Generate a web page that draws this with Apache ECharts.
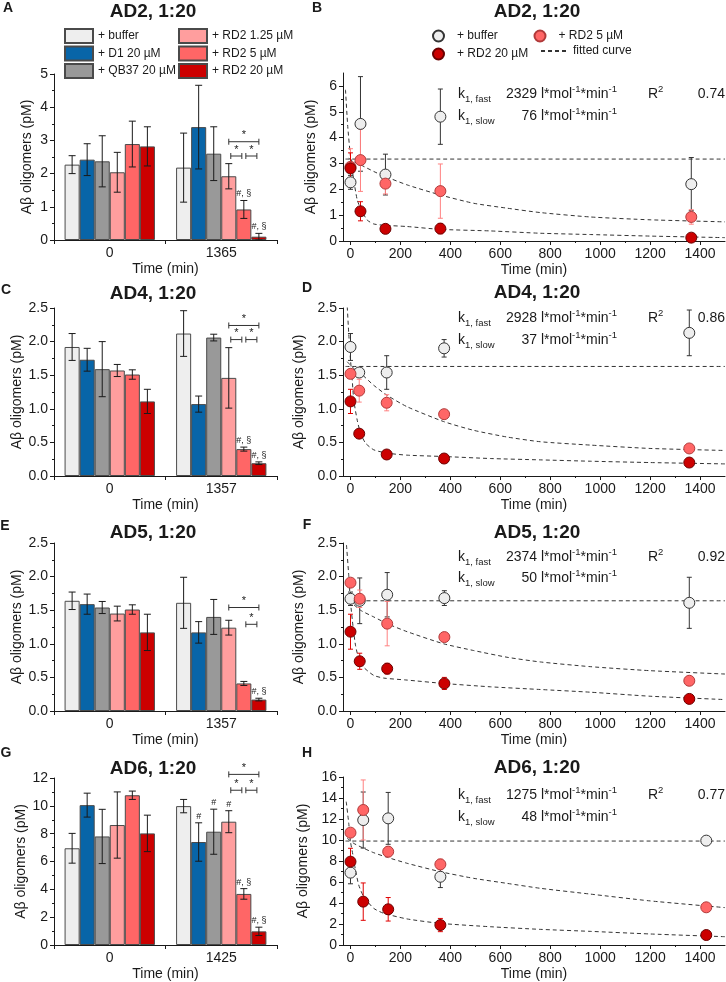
<!DOCTYPE html>
<html><head><meta charset="utf-8">
<script src="https://cdn.jsdelivr.net/npm/echarts@6/dist/echarts.min.js"></script>
<style>html,body{margin:0;padding:0;background:#fff}#c{width:726px;height:982px}</style>
</head><body><div id="c"></div>
<script>
// ================= DATA =================
const treatments = ['+ buffer','+ D1 20 µM','+ QB37 20 µM','+ RD2 1.25 µM','+ RD2 5 µM','+ RD2 20 µM'];
const catsA = ['0','1365'], catsC = ['0','1357'], catsE = ['0','1357'], catsG = ['0','1425'];
// per treatment: [time 0, end time]
const meansA = [[2.27,2.18],[2.42,3.40],[2.37,2.60],[2.04,1.92],[2.89,0.92],[2.82,0.10]];
const errsA  = [[0.27,1.04],[0.48,1.26],[0.77,0.81],[0.60,0.38],[0.69,0.27],[0.59,0.10]];
const meansC = [[1.92,2.12],[1.73,1.07],[1.59,2.06],[1.57,1.46],[1.51,0.40],[1.11,0.19]];
const errsC  = [[0.20,0.34],[0.17,0.12],[0.41,0.05],[0.09,0.45],[0.07,0.03],[0.18,0.02]];
const meansE = [[1.64,1.61],[1.59,1.17],[1.54,1.40],[1.45,1.24],[1.51,0.41],[1.17,0.17]];
const errsE  = [[0.13,0.38],[0.15,0.16],[0.09,0.26],[0.11,0.11],[0.07,0.03],[0.27,0.02]];
const meansG = [[6.95,9.98],[10.05,7.40],[7.80,8.14],[8.62,8.86],[10.76,3.67],[8.02,0.98]];
const errsG  = [[1.07,0.48],[0.86,1.38],[1.95,1.62],[2.38,0.79],[0.30,0.38],[1.31,0.30]];
// significance brackets: [category, fromBar, toBar, level]
const bracketsA = [[1,3,5,2.96],[1,3,4,2.53],[1,4,5,2.53]];
const bracketsC = [[1,3,5,2.24],[1,3,4,2.03],[1,4,5,2.03]];
const bracketsE = [[1,3,5,1.54],[1,4,5,1.29]];
const bracketsG = [[1,3,5,12.26],[1,3,4,11.12],[1,4,5,11.12]];
// marks above bars: [category, bar, text]
const marksA = [[1,4,'#, §'],[1,5,'#, §']];
const marksC = [[1,4,'#, §'],[1,5,'#, §']];
const marksE = [[1,5,'#, §']];
const marksG = [[1,1,'#'],[1,2,'#'],[1,3,'#'],[1,4,'#, §'],[1,5,'#, §']];

// time courses
const timesB = [0,40,140,360,1365];
const bufB = [2.27,4.53,2.57,4.81,2.20], bufBErr = [0.27,1.83,0.79,1.07,1.03];
const rd5B = [2.87,3.13,2.22,1.93,0.93], rd5BErr = [0.70,1.21,0.40,1.05,0.28];
const rd20B = [2.81,1.15,0.47,0.48,0.13], rd20BErr = [0.60,0.37,0.08,0.20,0.10];
const fitFlatB = [[-20,3.17],[1500,3.17]];
const fitRd5B = [[-7,3.2],[13,3.07],[40,2.95],[93,2.69],[133,2.52],[227,2.17],[360,1.78],[493,1.46],[627,1.27],[760,1.1],[960,0.93],[1200,0.82],[1500,0.74]];
const fitRd20B = [[-20,5.85],[-11,4.43],[0,3.27],[13,2.36],[27,1.59],[43,1.2],[67,0.81],[93,0.66],[133,0.61],[227,0.56],[360,0.45],[560,0.39],[760,0.3],[960,0.25],[1200,0.19],[1500,0.13]];

const timesD = [0,35,145,375,1357];
const bufD = [1.92,1.54,1.54,1.90,2.13], bufDErr = [0.20,0.05,0.25,0.13,0.34];
const rd5D = [1.52,1.27,1.09,0.92,0.41], rd5DErr = [0.07,0.17,0.12,0.03,0.03];
const rd20D = [1.11,0.63,0.32,0.26,0.20], rd20DErr = [0.18,0.03,0.03,0.03,0.02];
const fitFlatD = [[-20,1.63],[1500,1.63]];
const fitRd5D = [[-13,1.70],[13,1.60],[40,1.53],[93,1.35],[147,1.2],[227,1.03],[373,0.81],[493,0.68],[627,0.58],[760,0.51],[960,0.46],[1200,0.41],[1500,0.38]];
const fitRd20D = [[-13,2.52],[-7,2.12],[0,1.73],[7,1.43],[13,1.13],[27,0.83],[40,0.64],[60,0.49],[93,0.39],[147,0.34],[227,0.31],[373,0.29],[560,0.26],[760,0.24],[960,0.22],[1200,0.2],[1500,0.18]];

const timesF = [0,37,147,376,1357];
const bufF = [1.67,1.64,1.73,1.68,1.61], bufFErr = [0.10,0.34,0.33,0.11,0.38];
const rd5F = [1.91,1.67,1.30,1.10,0.45], rd5FErr = [0.05,0.13,0.33,0.03,0.03];
const rd20F = [1.18,0.74,0.63,0.41,0.18], rd20FErr = [0.26,0.12,0.08,0.09,0.02];
const fitFlatF = [[-20,1.64],[1500,1.64]];
const fitRd5F = [[-7,1.65],[40,1.50],[93,1.40],[147,1.30],[227,1.18],[373,1.0],[493,0.90],[627,0.80],[760,0.73],[960,0.66],[1200,0.6],[1500,0.55]];
const fitRd20F = [[-16,2.47],[-7,2.02],[0,1.62],[11,1.23],[20,0.98],[33,0.78],[53,0.65],[93,0.53],[133,0.49],[227,0.46],[373,0.41],[560,0.36],[760,0.32],[960,0.28],[1200,0.22],[1500,0.17]];

const timesH = [0,51,151,360,1425];
const bufH = [6.89,11.9,12.06,6.5,9.94], bufHErr = [1.06,2.67,2.47,1.03,0.32];
const rd5H = [10.7,12.86,8.89,7.68,3.59], rd5HErr = [0.3,2.86,0.5,0.5,0.38];
const rd20H = [7.94,4.13,3.40,1.90,0.95], rd20HErr = [1.27,1.78,1.12,0.63,0.2];
const fitFlatH = [[-20,9.9],[1500,9.9]];
const fitRd5H = [[-13,10.16],[13,9.68],[53,9.21],[93,8.79],[147,8.35],[227,7.78],[360,6.98],[493,6.35],[627,5.87],[760,5.4],[960,4.85],[1200,4.2],[1500,3.56]];
const fitRd20H = [[-17,13.65],[-7,11.6],[0,9.84],[11,8.41],[20,7.14],[33,5.71],[53,4.6],[93,3.49],[133,3.02],[227,2.48],[360,2.06],[560,1.74],[760,1.49],[960,1.3],[1200,1.05],[1500,0.79]];

// tick labels
const yTicksA = [0,1,2,3,4,5];
const yTicksB = [0,1,2,3,4,5,6];
const yTicksCDEF = [0,0.5,1.0,1.5,2.0,2.5];
const yTicksG = [0,2,4,6,8,10,12];
const yTicksH = [0,2,4,6,8,10,12,14,16];
const xTickValues = [0,200,400,600,800,1000,1200,1400];
const xMinorValues = [100,300,500,700,900,1100,1300];

// fit results
const kFastValues = [2329,2928,2374,1275];
const kSlowValues = [76,37,50,48];
const r2Values = ['0.74','0.86','0.92','0.77'];
const panelTitles = ['AD2, 1:20','AD4, 1:20','AD5, 1:20','AD6, 1:20'];

// ================= STYLE / BUILD =================
const FONT = '"Liberation Sans", Arial, Helvetica, sans-serif';
const INK = '#1a1a1a';
const barColors = ['#EEEEEE','#0865A8','#999999','#FF9E9E','#FF6666','#CC0000'];
const CAT_GAP = 0.19;
const ptStyles = {
  buf: {fill:'#EEEEEE', border:'#333333', err:'#333333'},
  rd5: {fill:'#FF6666', border:'#B03A3A', err:'#FF8080'},
  rd20:{fill:'#CC0000', border:'#6A0000', err:'#E00000'}
};

const option = {animation:false, textStyle:{fontFamily:FONT}, grid:[], xAxis:[], yAxis:[], series:[], legend:[], graphic:[]};

function axisCommon(){
  return {
    axisLine:{show:true, onZero:false, lineStyle:{color:INK, width:1}},
    axisTick:{show:true, length:4, lineStyle:{color:INK, width:1}},
    axisLabel:{fontSize:14, color:INK, margin:6, fontFamily:FONT},
    splitLine:{show:false},
    nameTextStyle:{fontSize:14, color:INK, fontFamily:FONT}
  };
}

function barX(api, ci, k){
  const band = api.size([1,0])[0];
  const gw = band*(1-CAT_GAP);
  const bw = gw/6;
  const cx = api.coord([ci,0])[0];
  return cx - gw/2 + bw*(k+0.5);
}

function barPanel(L, cats, means, errs, brackets, marks, yTicks, yStep, dec, yNameGap){
  const gi = option.grid.length;
  option.grid.push({left:L.left, top:L.top, width:L.w, height:L.h});
  const xi = option.xAxis.length;
  const xa = axisCommon();
  option.xAxis.push(Object.assign(xa, {gridIndex:gi, type:'category', data:cats,
    name:'Time (min)', nameLocation:'middle', nameGap:22}));
  const yi = option.yAxis.length;
  const ya = axisCommon();
  ya.axisLabel.formatter = v => v.toFixed(dec);
  option.yAxis.push(Object.assign(ya, {gridIndex:gi, type:'value', min:0, max:yTicks[yTicks.length-1], interval:yStep,
    minorTick:{show:true, splitNumber:2, length:2, lineStyle:{color:INK}},
    name:'Aβ oligomers (pM)', nameLocation:'middle', nameGap:yNameGap}));
  treatments.forEach((nm,k)=>{
    option.series.push({type:'bar', name:nm, xAxisIndex:xi, yAxisIndex:yi, data:means[k],
      barGap:'0%', barCategoryGap:(CAT_GAP*100)+'%', silent:true, z:2,
      itemStyle:{color:barColors[k], borderColor:'#4a4a4a', borderWidth:1}});
  });
  const errData = [];
  means.forEach((arr,k)=>arr.forEach((m,ci)=>errData.push([ci,k,m,errs[k][ci]])));
  option.series.push({type:'custom', xAxisIndex:xi, yAxisIndex:yi, z:4, silent:true, clip:false,
    data:errData, encode:{x:0,y:2},
    renderItem:(p,api)=>{
      const ci=api.value(0), k=api.value(1), m=api.value(2), e=api.value(3);
      const x = barX(api,ci,k);
      const yt = api.coord([ci,m+e])[1], yb = api.coord([ci,Math.max(m-e,0)])[1];
      const st = {stroke:INK, lineWidth:1};
      return {type:'group', children:[
        {type:'line', shape:{x1:x,y1:yt,x2:x,y2:yb}, style:st},
        {type:'line', shape:{x1:x-3.5,y1:yt,x2:x+3.5,y2:yt}, style:st},
        {type:'line', shape:{x1:x-3.5,y1:yb,x2:x+3.5,y2:yb}, style:st}
      ]};
    }});
  option.series.push({type:'custom', xAxisIndex:xi, yAxisIndex:yi, z:5, silent:true, clip:false,
    data:brackets, encode:{x:0,y:3},
    renderItem:(p,api)=>{
      const ci=api.value(0), a=api.value(1), b=api.value(2), lv=api.value(3);
      const ins = (b-a===1)?2:0;
      const x1 = barX(api,ci,a)+ins, x2 = barX(api,ci,b)-ins;
      const y = api.coord([ci,lv])[1];
      const st = {stroke:'#333', lineWidth:1};
      return {type:'group', children:[
        {type:'line', shape:{x1:x1,y1:y,x2:x2,y2:y}, style:st},
        {type:'line', shape:{x1:x1,y1:y-3,x2:x1,y2:y+3}, style:st},
        {type:'line', shape:{x1:x2,y1:y-3,x2:x2,y2:y+3}, style:st},
        {type:'text', x:(x1+x2)/2, y:y-1, style:{text:'*', fill:INK, font:'11px '+FONT, align:'center', verticalAlign:'bottom'}}
      ]};
    }});
  const markData = marks.map(m=>[m[0], m[1], means[m[1]][m[0]]+errs[m[1]][m[0]]]);
  option.series.push({type:'custom', xAxisIndex:xi, yAxisIndex:yi, z:5, silent:true, clip:false,
    data:markData, encode:{x:0,y:2},
    renderItem:(p,api)=>{
      const ci=api.value(0), k=api.value(1), top=api.value(2);
      const x = barX(api,ci,k);
      const y = api.coord([ci,top])[1];
      return {type:'text', x:x, y:y-2, style:{text:marks[p.dataIndex][2], fill:INK, font:'9px '+FONT, align:'center', verticalAlign:'bottom'}};
    }});
}

function errSeries(xi, yi, times, vals, errs, color){
  return {type:'custom', xAxisIndex:xi, yAxisIndex:yi, z:3, silent:true, clip:false,
    data: times.map((t,i)=>[t, vals[i], errs[i]]), encode:{x:0,y:1},
    renderItem:(p,api)=>{
      const t=api.value(0), v=api.value(1), e=api.value(2);
      const x = api.coord([t,v])[0];
      const yt = api.coord([t,v+e])[1], yb = api.coord([t,Math.max(v-e,0)])[1];
      const st = {stroke:color, lineWidth:1};
      return {type:'group', children:[
        {type:'line', shape:{x1:x,y1:yt,x2:x,y2:yb}, style:st},
        {type:'line', shape:{x1:x-2.5,y1:yt,x2:x+2.5,y2:yt}, style:st},
        {type:'line', shape:{x1:x-2.5,y1:yb,x2:x+2.5,y2:yb}, style:st}
      ]};
    }};
}

function scatterPanel(L, times, sets, fits, yTicks, yStep, dec, yNameGap){
  const gi = option.grid.length;
  option.grid.push({left:L.left, top:L.top, width:L.w, height:L.h});
  const xi = option.xAxis.length;
  const xa = axisCommon();
  xa.axisTick.customValues = xTickValues;
  xa.axisLabel.customValues = xTickValues;
  xa.axisLabel.formatter = v => String(v);
  option.xAxis.push(Object.assign(xa, {gridIndex:gi, type:'value', min:-30, max:1500, position:'bottom',
    name:'Time (min)', nameLocation:'middle', nameGap:22}));
  option.xAxis.push({gridIndex:gi, type:'value', min:-30, max:1500, position:'bottom', offset:0,
    axisLine:{show:false}, axisLabel:{show:false}, splitLine:{show:false},
    axisTick:{show:true, length:2, customValues:xMinorValues, lineStyle:{color:INK}}});
  const yi = option.yAxis.length;
  const ya = axisCommon();
  ya.axisTick.customValues = yTicks;
  ya.axisLabel.customValues = yTicks;
  ya.axisLabel.formatter = v => v.toFixed(dec);
  option.yAxis.push(Object.assign(ya, {gridIndex:gi, type:'value', min:0, max:L.ymax, interval:yStep,
    minorTick:{show:true, splitNumber:2, length:2, lineStyle:{color:INK}},
    name:'Aβ oligomers (pM)', nameLocation:'middle', nameGap:yNameGap}));
  fits.forEach(f=>{
    option.series.push({type:'line', name:'fitted curve', xAxisIndex:xi, yAxisIndex:yi, data:f,
      smooth:0.2, symbol:'none', silent:true, z:1, clip:true,
      itemStyle:{color:'#333'},
      lineStyle:{color:'#333', width:1, type:[4,3]}});
  });
  const defs = [['buf','pt:+ buffer'],['rd5','pt:+ RD2 5 µM'],['rd20','pt:+ RD2 20 µM']];
  defs.forEach(([key,nm],j)=>{
    const s = sets[j], stl = ptStyles[key];
    option.series.push(errSeries(xi, yi, times, s[0], s[1], stl.err));
  });
  defs.forEach(([key,nm],j)=>{
    const s = sets[j], stl = ptStyles[key];
    option.series.push({type:'scatter', name:nm, xAxisIndex:xi, yAxisIndex:yi, z:5+j, silent:true,
      data: times.map((t,i)=>[t, s[0][i]]), symbol:'circle', symbolSize:11,
      itemStyle:{color:stl.fill, borderColor:stl.border, borderWidth:1, opacity:1}});
  });
}

// layouts
const BL = 54, BW = 223, SL = 343, SW = 382;
barPanel({left:BL, top:74, w:BW, h:166}, catsA, meansA, errsA, bracketsA, marksA, yTicksA, 1, 0, 20);
barPanel({left:BL, top:308, w:BW, h:168}, catsC, meansC, errsC, bracketsC, marksC, yTicksCDEF, 0.5, 1, 29);
barPanel({left:BL, top:543, w:BW, h:168}, catsE, meansE, errsE, bracketsE, marksE, yTicksCDEF, 0.5, 1, 29);
barPanel({left:BL, top:778, w:BW, h:169}, catsG, meansG, errsG, bracketsG, marksG, yTicksG, 2, 0, 25);

scatterPanel({left:SL, top:73, w:SW, h:168, ymax:6.5}, timesB,
  [[bufB,bufBErr],[rd5B,rd5BErr],[rd20B,rd20BErr]], [fitFlatB,fitRd5B,fitRd20B], yTicksB, 1, 0, 14);
scatterPanel({left:SL, top:308, w:SW, h:168, ymax:2.5}, timesD,
  [[bufD,bufDErr],[rd5D,rd5DErr],[rd20D,rd20DErr]], [fitFlatD,fitRd5D,fitRd20D], yTicksCDEF, 0.5, 1, 28);
scatterPanel({left:SL, top:543, w:SW, h:168, ymax:2.5}, timesF,
  [[bufF,bufFErr],[rd5F,rd5FErr],[rd20F,rd20FErr]], [fitFlatF,fitRd5F,fitRd20F], yTicksCDEF, 0.5, 1, 28);
scatterPanel({left:SL, top:777, w:SW, h:168, ymax:16}, timesH,
  [[bufH,bufHErr],[rd5H,rd5HErr],[rd20H,rd20HErr]], [fitFlatH,fitRd5H,fitRd20H], yTicksH, 2, 0, 23);

// legends
const legText = {fontSize:12, color:INK, fontFamily:FONT};
const stripPt = n => n.replace('pt:','');
option.legend.push({orient:'vertical', left:64, top:28, padding:0, itemWidth:28, itemHeight:14, itemGap:1.5,
  icon:'rect', selectedMode:false, textStyle:legText, data:treatments.slice(0,3)});
option.legend.push({orient:'vertical', left:178, top:28, padding:0, itemWidth:28, itemHeight:14, itemGap:1.5,
  icon:'rect', selectedMode:false, textStyle:legText, data:treatments.slice(3)});
option.legend.push({orient:'vertical', left:432, top:29.5, padding:0, itemWidth:27, itemHeight:11, itemGap:5,
  selectedMode:false, textStyle:legText, formatter:stripPt, data:['pt:+ buffer','pt:+ RD2 20 µM']});
option.legend.push({orient:'vertical', left:533.5, top:29.5, padding:0, itemWidth:27, itemHeight:11,
  selectedMode:false, textStyle:legText, formatter:stripPt, data:['pt:+ RD2 5 µM']});
option.legend.push({orient:'vertical', left:540, top:45, padding:0, itemWidth:27, itemHeight:12,
  selectedMode:false, textStyle:legText, itemStyle:{opacity:0}, data:['fitted curve']});

// texts
function txt(x,y,text,font,align){
  return {type:'text', x:x, y:y, silent:true, z:100,
    style:{text:text, font:font, fill:INK, align:align||'center', verticalAlign:'middle'}};
}
const TITLE = 'bold 19px '+FONT, LETTER = 'bold 14px '+FONT;
const leftTitleY = [12,294,533,769], rightTitleY = [12,293,533,768];
panelTitles.forEach((t,i)=>{
  option.graphic.push(txt(153, leftTitleY[i], t, TITLE));
  option.graphic.push(txt(537, rightTitleY[i], t, TITLE));
});
[['A',8,8],['C',6,290],['E',5,526],['G',6,753],['B',317,8],['D',307,288],['F',307,525],['H',307,753]]
  .forEach(([l,x,y])=>option.graphic.push(txt(x,y,l,LETTER)));

const RICH = {
  n:{fontSize:14, fontFamily:FONT, lineHeight:20, fill:INK},
  sub:{fontSize:9.5, fontFamily:FONT, lineHeight:10, verticalAlign:'bottom', fill:INK},
  sup:{fontSize:9.5, fontFamily:FONT, lineHeight:10, verticalAlign:'top', fill:INK}
};
function rich(x,y,text,align){
  return {type:'text', x:x, y:y, silent:true, z:100,
    style:{text:text, rich:RICH, font:'14px '+FONT, fill:INK, align:align, verticalAlign:'middle'}};
}
const annotY = [[94,116],[318,340],[557,578],[795,817]];
annotY.forEach(([y1,y2],i)=>{
  option.graphic.push(rich(458, y1, '{n|k}{sub|1, fast}', 'left'));
  option.graphic.push(rich(458, y2, '{n|k}{sub|1, slow}', 'left'));
  option.graphic.push(rich(617, y1, '{n|'+kFastValues[i]+' l*mol}{sup|-1}{n|*min}{sup|-1}', 'right'));
  option.graphic.push(rich(617, y2, '{n|'+kSlowValues[i]+' l*mol}{sup|-1}{n|*min}{sup|-1}', 'right'));
  option.graphic.push(rich(648, y1, '{n|R}{sup|2}', 'left'));
  option.graphic.push(rich(725, y1, '{n|'+r2Values[i]+'}', 'right'));
});

const chart = echarts.init(document.getElementById('c'), null, {renderer:'canvas'});
chart.setOption(option);
</script></body></html>
